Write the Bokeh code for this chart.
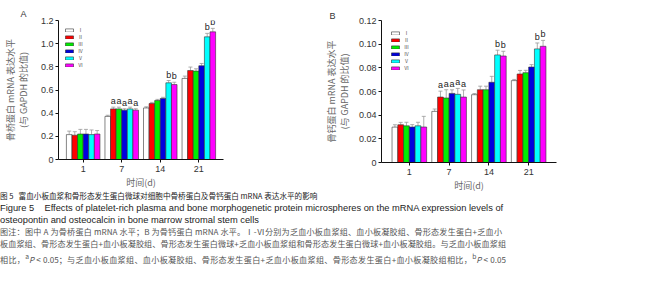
from bokeh.plotting import figure
from bokeh.models import (FactorRange, Range1d, FixedTicker, Whisker, TeeHead,
                          ColumnDataSource, Legend, LegendItem, Div)
from bokeh.transform import dodge
from bokeh.layouts import row, column
from bokeh.embed import file_html
from bokeh.resources import INLINE
from bokeh.core.properties import value

days = ["1", "7", "14", "21"]
groups = ["Ⅰ", "Ⅱ", "Ⅲ", "Ⅳ", "Ⅴ", "Ⅵ"]
colors = ["#ffffff", "#ff0000", "#00ee00", "#0000dd", "#00ffff", "#ff00ff"]

# Panel A: osteopontin mRNA (ratio to GAPDH), one list per group over days
opn_vals = [
    [0.215, 0.372, 0.445, 0.700],
    [0.210, 0.437, 0.483, 0.768],
    [0.220, 0.437, 0.509, 0.763],
    [0.220, 0.426, 0.527, 0.809],
    [0.215, 0.437, 0.662, 1.059],
    [0.220, 0.426, 0.647, 1.102],
]
opn_errs = [
    [0.030, 0.010, 0.010, 0.020],
    [0.030, 0.015, 0.010, 0.030],
    [0.040, 0.015, 0.010, 0.020],
    [0.040, 0.012, 0.010, 0.020],
    [0.040, 0.015, 0.020, 0.030],
    [0.030, 0.012, 0.020, 0.030],
]
opn_sig = [
    ["", "", "", ""],
    ["", "a", "", ""],
    ["", "a", "", ""],
    ["", "a", "", ""],
    ["", "a", "b", "b"],
    ["", "a", "b", "b"],
]

# Panel B: osteocalcin mRNA (ratio to GAPDH)
ocn_vals = [
    [0.0299, 0.0432, 0.0573, 0.0692],
    [0.0319, 0.0553, 0.0615, 0.0748],
    [0.0310, 0.0545, 0.0615, 0.0759],
    [0.0300, 0.0584, 0.0678, 0.0807],
    [0.0310, 0.0576, 0.0909, 0.0960],
    [0.0300, 0.0553, 0.0900, 0.0982],
]
ocn_errs = [
    [0.002, 0.002, 0.001, 0.001],
    [0.002, 0.005, 0.003, 0.003],
    [0.003, 0.007, 0.003, 0.002],
    [0.002, 0.003, 0.005, 0.002],
    [0.003, 0.005, 0.004, 0.005],
    [0.009, 0.006, 0.004, 0.005],
]
ocn_sig = opn_sig

yA_ticks = [0, 0.2, 0.4, 0.6, 0.8, 1.0, 1.2]
yA_labels = ["0", "0.2", "0.4", "0.6", "0.8", "1.0", "1.2"]
yB_ticks = [0, 0.02, 0.04, 0.06, 0.08, 0.10, 0.12]
yB_labels = ["0", "0.02", "0.04", "0.06", "0.08", "0.10", "0.12"]

CJK = "Noto Sans CJK SC"
LAT = "Liberation Sans"
BAR_W = 0.145


def panel(letter, vals, errs, sigs, ymax, ticks, labels, ylabel,
          fw, fh, left, top, right, bottom, pad, leg_margin,
          title_offset, title_standoff, ylab_standoff):
    p = figure(x_range=FactorRange(*days, range_padding=pad),
               y_range=Range1d(0, ymax),
               frame_width=fw, frame_height=fh,
               min_border_left=left, min_border_top=top,
               min_border_right=right, min_border_bottom=bottom,
               output_backend="svg", toolbar_location=None, tools="")
    p.outline_line_color = None
    p.xgrid.visible = False
    p.ygrid.visible = False
    p.title.text = letter
    p.title.align = "left"
    p.title.offset = title_offset
    p.title.standoff = title_standoff
    p.title.text_font = LAT
    p.title.text_font_size = "9px"
    p.title.text_font_style = "normal"
    p.title.text_color = "#333333"
    items = []
    for i in range(6):
        off = (i - 2.5) * BAR_W
        up = [v + e for v, e in zip(vals[i], errs[i])]
        src = ColumnDataSource(dict(day=days, v=vals[i], up=up, sig=sigs[i]))
        r = p.vbar(x=dodge("day", off, range=p.x_range), top="v", width=BAR_W,
                   source=src, fill_color=colors[i], line_color="#333333",
                   line_width=0.6)
        items.append(LegendItem(label=groups[i], renderers=[r]))
        w = Whisker(base=dodge("day", off, range=p.x_range), upper="up", lower="v",
                    source=src, dimension="height", line_color="#999999",
                    line_width=0.8,
                    upper_head=TeeHead(size=4, line_color="#999999", line_width=0.8),
                    lower_head=None)
        p.add_layout(w)
        p.text(x=dodge("day", off, range=p.x_range), y="up", text="sig", source=src,
               text_font=value(LAT), text_font_size="9px", text_color="#222222",
               text_align="center", text_baseline="bottom", y_offset=-1)
    leg = Legend(items=items, location="top_left", orientation="vertical",
                 glyph_width=10, glyph_height=4, label_height=4,
                 label_text_font_size="5px", label_text_line_height=0.8,
                 label_text_font=CJK,
                 label_text_color="#555555", label_standoff=4,
                 spacing=0, padding=0, margin=leg_margin,
                 border_line_color=None, background_fill_alpha=0)
    p.add_layout(leg)
    p.yaxis.ticker = FixedTicker(ticks=ticks)
    p.yaxis.major_label_overrides = dict(zip(ticks, labels))
    p.yaxis.minor_tick_line_color = None
    for ax in (p.xaxis[0], p.yaxis[0]):
        ax.axis_line_color = "#111111"
        ax.major_tick_line_color = "#111111"
        ax.major_tick_out = 3
        ax.major_tick_in = 0
        ax.major_label_text_font = LAT
        ax.major_label_text_font_size = "9px"
        ax.major_label_text_color = "#333333"
        ax.axis_label_text_font = CJK
        ax.axis_label_text_font_size = "9px"
        ax.axis_label_text_font_style = "normal"
        ax.axis_label_text_color = "#666666"
        ax.major_label_standoff = 2
    p.xaxis.axis_label = "时间(d)"
    p.yaxis.axis_label = ylabel
    p.yaxis.axis_label_text_line_height = 1.0
    p.yaxis.axis_label_standoff = ylab_standoff
    p.xaxis.major_label_standoff = 3
    p.xaxis.axis_label_standoff = 1
    return p


pA = panel("A", opn_vals, opn_errs, opn_sig, 1.2, yA_ticks, yA_labels,
           "骨桥蛋白 mRNA 表达水平\n(与 GAPDH 的比值)",
           165, 139, 49, 20, 98, 28, 0.07, 6, -38, 4, 8)
pB = panel("B", ocn_vals, ocn_errs, ocn_sig, 0.12, yB_ticks, yB_labels,
           "骨钙蛋白 mRNA 表达水平\n(与 GAPDH 的比值)",
           175, 142, 52, 18, 90, 27, 0.1, 9, -52, 0, 5)

line_style = "white-space:nowrap;height:12px;line-height:12px;"
just = "text-align:justify;text-align-last:justify;"
caption_html = (
    f'<div style="{line_style}{just}width:306px;font-family:\'{CJK}\';font-size:7.6px;color:#222;">'
    '图 5&nbsp;&nbsp;&nbsp;富血小板血浆和骨形态发生蛋白微球对细胞中骨桥蛋白及骨钙蛋白 mRNA 表达水平的影响</div>'
    f'<div style="{line_style}font-family:\'{LAT}\';font-size:9.3px;color:#222;">'
    'Figure 5&nbsp;&nbsp;&nbsp;&nbsp;Effects of platelet-rich plasma and bone morphogenetic protein '
    'microspheres on the mRNA expression levels of</div>'
    f'<div style="{line_style}font-family:\'{LAT}\';font-size:9.3px;color:#222;">'
    'osteopontin and osteocalcin in bone marrow stromal stem cells</div>'
    f'<div style="{line_style}{just}width:502px;font-family:\'{CJK}\';font-size:8.1px;color:#555;">'
    '图注：图中 A 为骨桥蛋白 mRNA 水平；B 为骨钙蛋白 mRNA 水平。Ⅰ-Ⅵ分别为乏血小板血浆组、血小板凝胶组、骨形态发生蛋白+乏血小</div>'
    f'<div style="{line_style}{just}width:506px;font-family:\'{CJK}\';font-size:8.1px;color:#555;">'
    '板血浆组、骨形态发生蛋白+血小板凝胶组、骨形态发生蛋白微球+乏血小板血浆组和骨形态发生蛋白微球+血小板凝胶组。与乏血小板血浆组</div>'
    f'<div style="{line_style}{just}width:506px;font-family:\'{CJK}\';font-size:8.1px;color:#555;">'
    '相比，<sup>a</sup><i>P</i> &lt; 0.05；与乏血小板血浆组、血小板凝胶组、骨形态发生蛋白+乏血小板血浆组、骨形态发生蛋白+血小板凝胶组相比，<sup>b</sup><i>P</i> &lt; 0.05</div>'
)
cap = Div(text=caption_html, width=641, height=80, margin=(-2, 0, 0, 0))

layout = column(row(pA, pB, spacing=0), cap, spacing=0)
open("out.html", "w").write(file_html(layout, INLINE))
